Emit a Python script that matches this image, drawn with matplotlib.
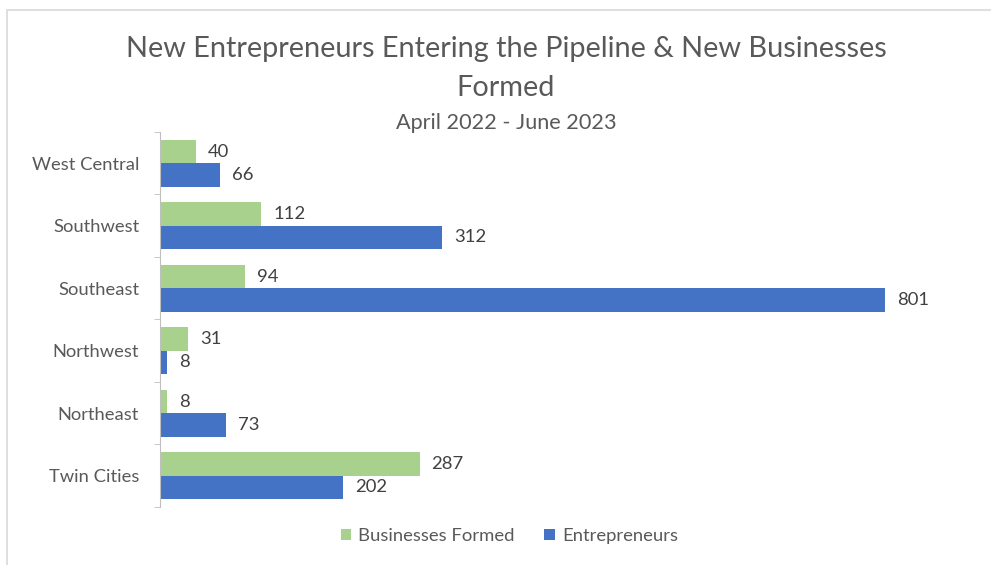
import numpy as np
import matplotlib.pyplot as plt
from matplotlib.patches import Rectangle

regions = ['West Central', 'Southwest', 'Southeast', 'Northwest', 'Northeast', 'Twin Cities']
businesses = [40, 112, 94, 31, 8, 287]
entrepreneurs = [66, 312, 801, 8, 73, 202]

green = '#A9D18E'
blue = '#4472C4'
grey = '#595959'

plt.rcParams['font.family'] = ['Lato', 'DejaVu Sans']

fig = plt.figure(figsize=(9.91, 5.65), dpi=100)
ax = fig.add_axes([0.1615, 0.1027, 0.822, 0.6637])

# chart frame, cut off at the right and bottom edges
fig.patches.append(Rectangle((7 / 991, -0.05), 1.0, 1.05 - 10 / 565,
                             transform=fig.transFigure, fill=False,
                             edgecolor='#D9D9D9', linewidth=1.2))

y = np.arange(len(regions))
h = 0.375
bg = ax.barh(y - h / 2, businesses, height=h, color=green, label='Businesses Formed')
be = ax.barh(y + h / 2, entrepreneurs, height=h, color=blue, label='Entrepreneurs')

for bars, vals in [(bg, businesses), (be, entrepreneurs)]:
    for b, v in zip(bars, vals):
        ax.text(v + 13, b.get_y() + b.get_height() / 2, str(v),
                va='center', ha='left', fontsize=13.3, color='#404040')

ax.set_xlim(0, 900)
ax.set_ylim(len(regions) - 0.5, -0.5)
ax.set_yticks(y)
ax.set_yticklabels(regions, fontsize=13.2, color=grey)
ax.tick_params(axis='y', length=0, pad=15)
ax.set_yticks(np.arange(len(regions) + 1) - 0.5, minor=True)
ax.tick_params(axis='y', which='minor', length=4, color='#BFBFBF', direction='out')
ax.set_xticks([])
for s in ['top', 'right', 'bottom']:
    ax.spines[s].set_visible(False)
ax.spines['left'].set_color('#BFBFBF')

fig.text(0.5105, 0.914, 'New Entrepreneurs Entering the Pipeline & New Businesses',
         ha='center', va='center', fontsize=20.8, color=grey)
fig.text(0.5105, 0.845, 'Formed', ha='center', va='center', fontsize=20.8, color=grey)
fig.text(0.5105, 0.783, 'April 2022 - June 2023', ha='center', va='center',
         fontsize=15.6, color=grey)

fig.legend(loc='center', bbox_to_anchor=(0.514, 0.051), ncol=2, frameon=False,
           fontsize=13.3, handlelength=0.55, handleheight=0.55, handletextpad=0.4,
           columnspacing=1.6, labelcolor=grey)

fig.savefig('out.png', dpi=100)
